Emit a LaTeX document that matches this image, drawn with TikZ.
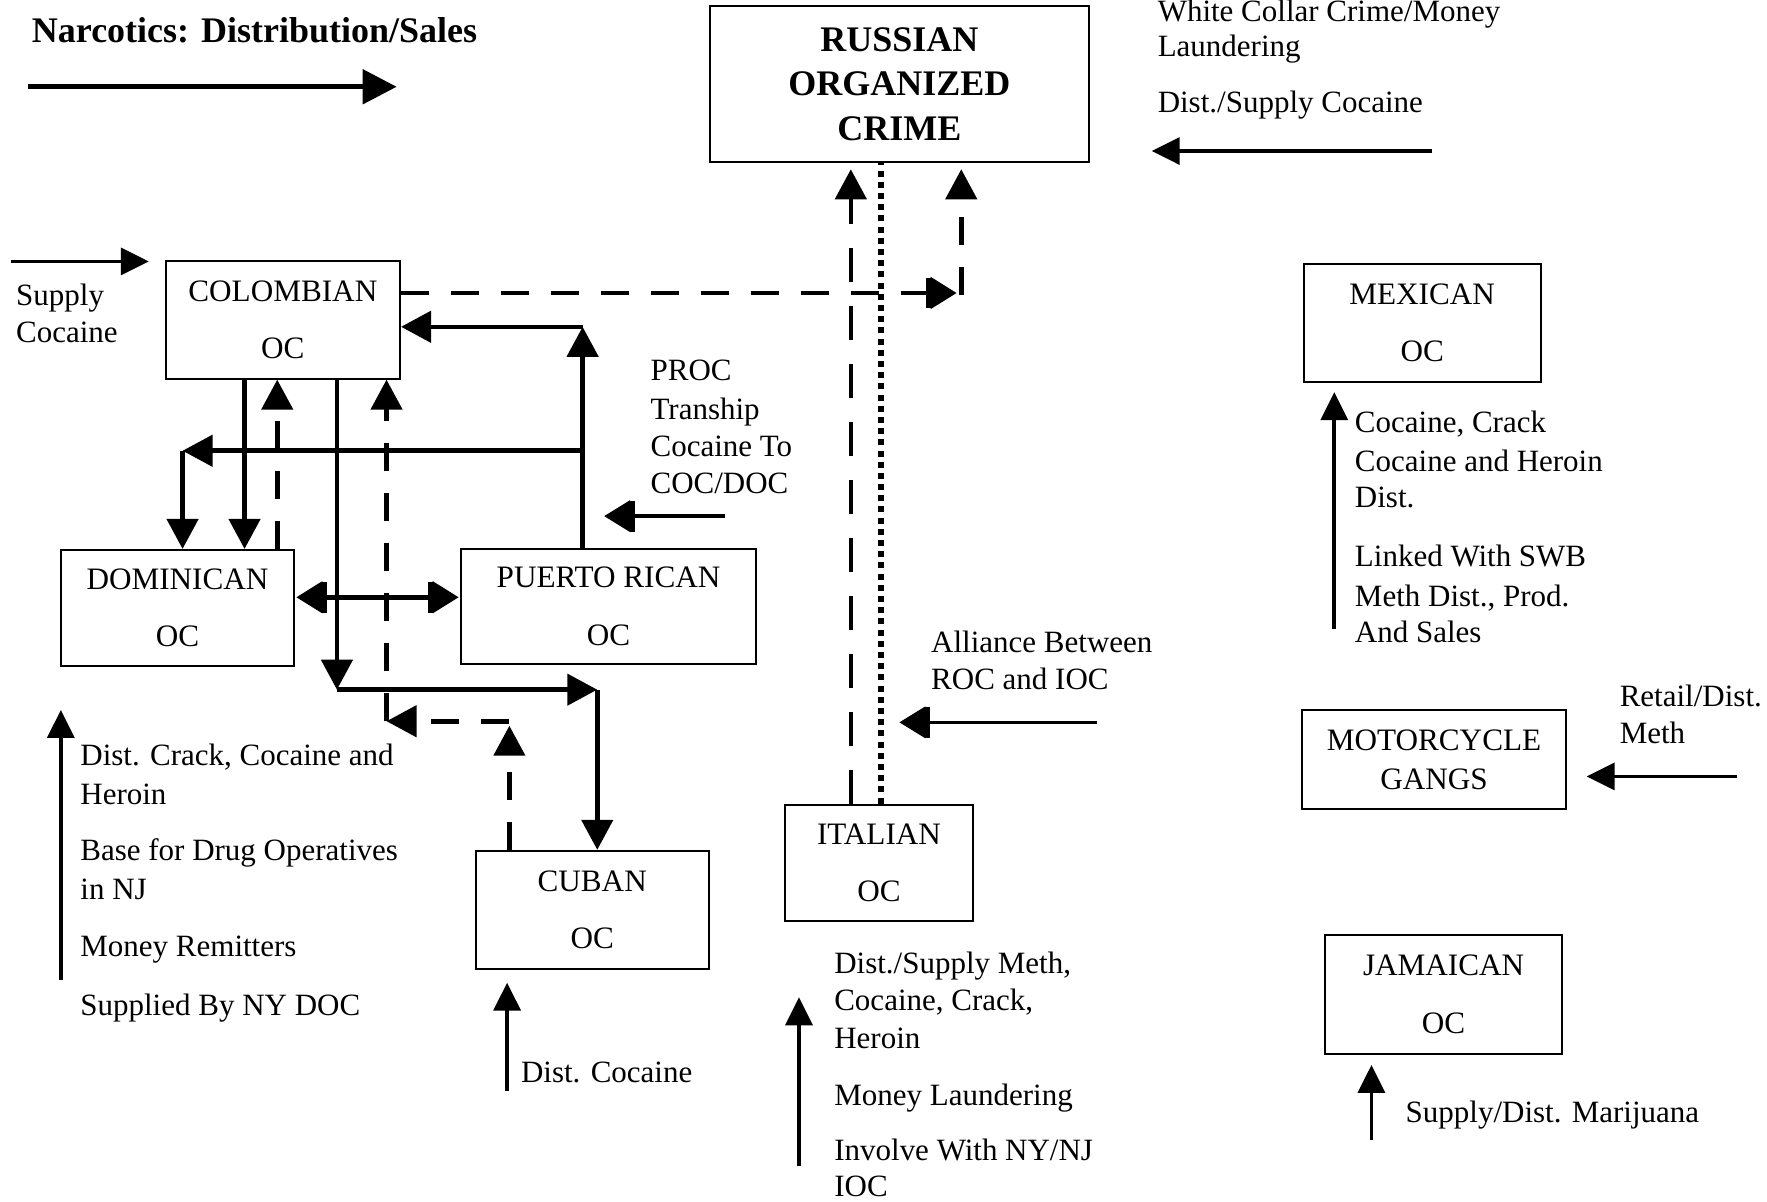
\documentclass[tikz,border=0pt]{standalone}
\usepackage{fontspec}
\setmainfont{Liberation Serif}
\usetikzlibrary{arrows.meta}
\def\dpx{0.5636pt}
\begin{document}
\begin{tikzpicture}[x=0.5636pt,y=-0.5636pt,
 box/.style={draw,line width=1pt,inner sep=0pt,align=center,font=\fontsize{15.6pt}{28.7pt}\selectfont},
 lbl/.style={anchor=base west,inner sep=0pt,font=\fontsize{15.5pt}{18pt}\selectfont},
 ttl/.style={anchor=base west,inner sep=0pt,font=\bfseries\fontsize{18pt}{22pt}\selectfont},
 conn/.style={line width=2.3pt},
 tipA/.style={-{Triangle[length=15pt,width=15.5pt]}},
 solidarrow/.style={conn,tipA},
 dasharrow/.style={conn,tipA,dash pattern=on 14pt off 11pt},
 longdash/.style={conn,tipA,dash pattern=on 17pt off 12pt},
 dotline/.style={line width=3pt,dash pattern=on 3pt off 2.6pt},
 bartip/.style={arrows={-Bar[width=15.5pt,line width=2.5pt,sep=0pt]Triangle[length=13pt,width=15.5pt,sep=0.6pt]}},
 bartips/.style={arrows={Triangle[length=13pt,width=15.5pt,sep=0.6pt]Bar[width=15.5pt,line width=2.5pt,sep=0pt]-Bar[width=15.5pt,line width=2.5pt,sep=0pt]Triangle[length=13pt,width=15.5pt,sep=0.6pt]}},
 lblarrow/.style={line width=1.8pt,-{Triangle[length=14pt,width=13.5pt]}},
 legarrow/.style={line width=2.6pt,-{Triangle[length=17pt,width=17pt]}},
]
\useasboundingbox (0,0) rectangle (1568,1066);
\clip (0,0) rectangle (1568,1066);

% boxes
\node[box,minimum width=336*\dpx,minimum height=139*\dpx,font=\bfseries\fontsize{18pt}{22.3pt}\selectfont] (roc) at (798,74.5) {RUSSIAN\\ORGANIZED\\CRIME};
\node[box,minimum width=208*\dpx,minimum height=104*\dpx] (col) at (251,284) {COLOMBIAN\\OC};
\node[box,minimum width=207*\dpx,minimum height=103*\dpx] (dom) at (157.5,539.5) {DOMINICAN\\OC};
\node[box,minimum width=262*\dpx,minimum height=102*\dpx] (pr) at (540,538) {PUERTO RICAN\\OC};
\node[box,minimum width=207*\dpx,minimum height=105*\dpx] (cub) at (525.5,807.5) {CUBAN\\OC};
\node[box,minimum width=166*\dpx,minimum height=103*\dpx] (ita) at (780,765.5) {ITALIAN\\OC};
\node[box,minimum width=210*\dpx,minimum height=105*\dpx] (mex) at (1262,286.5) {MEXICAN\\OC};
\node[box,minimum width=235*\dpx,minimum height=88*\dpx,font=\fontsize{15.6pt}{19.7pt}\selectfont] (moto) at (1272.5,674) {MOTORCYCLE\\GANGS};
\node[box,minimum width=210*\dpx,minimum height=105*\dpx] (jam) at (1281,882.5) {JAMAICAN\\OC};

% texts
\node[ttl] (title) at (28,38) {Narcotics: Distribution/Sales};
\node[lbl] (w1) at (1027,19) {White Collar Crime/Money};
\node[lbl] (w2) at (1027,50) {Laundering};
\node[lbl] (w3) at (1027,100) {Dist./Supply Cocaine};
\node[lbl] (s1) at (14,271) {Supply};
\node[lbl] (s2) at (14,304) {Cocaine};
\node[lbl] (pt1) at (577,338) {PROC};
\node[lbl] (pt2) at (577,372) {Tranship};
\node[lbl] (pt3) at (577,405) {Cocaine To};
\node[lbl] (pt4) at (577,438) {COC/DOC};
\node[lbl] (al1) at (826,579) {Alliance Between};
\node[lbl] (al2) at (826,612) {ROC and IOC};
\node[lbl] (dt1) at (71,679) {Dist. Crack, Cocaine and};
\node[lbl] (dt2) at (71,714) {Heroin};
\node[lbl] (dt3) at (71,764) {Base for Drug Operatives};
\node[lbl] (dt4) at (71,798) {in NJ};
\node[lbl] (dt5) at (71,849) {Money Remitters};
\node[lbl] (dt6) at (71,901) {Supplied By NY DOC};
\node[lbl] (ct1) at (462,961) {Dist. Cocaine};
\node[lbl] (it1) at (740,864) {Dist./Supply Meth,};
\node[lbl] (it2) at (740,897) {Cocaine, Crack,};
\node[lbl] (it3) at (740,930) {Heroin};
\node[lbl] (it4) at (740,981) {Money Laundering};
\node[lbl] (it5) at (740,1030) {Involve With NY/NJ};
\node[lbl] (it6) at (740,1062) {IOC};
\node[lbl] (mt1) at (1202,384) {Cocaine, Crack};
\node[lbl] (mt2) at (1202,418) {Cocaine and Heroin};
\node[lbl] (mt3) at (1202,450) {Dist.};
\node[lbl] (mt4) at (1202,503) {Linked With SWB};
\node[lbl] (mt5) at (1202,538) {Meth Dist., Prod.};
\node[lbl] (mt6) at (1202,570) {And Sales};
\node[lbl] (rt1) at (1437,627) {Retail/Dist.};
\node[lbl] (rt2) at (1437,660) {Meth};
\node[lbl] (jt1) at (1247,996) {Supply/Dist. Marijuana};

% free ends of label arrows
\coordinate (lgA) at (25,77);   \coordinate (lgB) at (352,77);
\coordinate (spA) at (10,232);  \coordinate (spB) at (132,232);
\coordinate (rA) at (1271,134); \coordinate (rB) at (1022,134);
\coordinate (pA) at (643,458);  \coordinate (pB) at (535,458);
\coordinate (aA) at (973,641);  \coordinate (aB) at (797,641);
\coordinate (dA) at (54,870);   \coordinate (dB) at (54,630);
\coordinate (cA) at (450,968);  \coordinate (cB) at (450,872);
\coordinate (iA) at (709,1035); \coordinate (iB) at (709,885);
\coordinate (mA) at (1184,558); \coordinate (mB) at (1184,348);
\coordinate (moA) at (1541,689);\coordinate (moB) at (1408,689);
\coordinate (jA) at (1217,1012);\coordinate (jB) at (1217,945);

% junctions
\coordinate (xa) at (217,0);
\coordinate (xb) at (246,0);
\coordinate (xd) at (299,0);
\coordinate (xg) at (755,0);
\coordinate (xh) at (782,0);
\coordinate (kR) at (517,290);
\coordinate (kM) at (517,400);
\coordinate (kL) at (162,400);
\coordinate (kD) at (299,612);
\coordinate (kC) at (530,612);
\coordinate (kU) at (452,644);
\coordinate (kV) at (452,640);
\coordinate (kW) at (343,640);
\coordinate (kH) at (850,260);
\coordinate (kT) at (853,262);
\coordinate (yDP) at (0,530);

% label arrows
\draw[legarrow] (lgA) -- (lgB);
\draw[lblarrow] (spA) -- (spB);
\draw[lblarrow] (rA) -- (rB);
\draw[lblarrow,bartip] (pA) -- (pB);
\draw[lblarrow,bartip] (aA) -- (aB);
\draw[lblarrow] (dA) -- (dB);
\draw[lblarrow] (cA) -- (cB);
\draw[lblarrow] (iA) -- (iB);
\draw[lblarrow] (mA) -- (mB);
\draw[lblarrow] (moA) -- (moB);
\draw[lblarrow] (jA) -- (jB);

% connectors between groups
\draw[solidarrow] (col.south -| xa) -- (dom.north -| xa);
\draw[dasharrow] (dom.north -| xb) -- (col.south -| xb);
\draw[solidarrow] (col.south -| xd) -- (kD);
\draw[solidarrow] (kD) -- (kC);
\draw[solidarrow] (kC) -- (cub.north -| kC);
\draw[dasharrow] (cub.north -| kU) -- (kU);
\draw[dasharrow] (kV) -- (kW);
\draw[dasharrow] (kW) -- (col.south -| kW);
\draw[solidarrow] (pr.north -| kR) -- (kR);
\draw[solidarrow] (kR) -- (col.east |- kR);
\draw[solidarrow] (kM) -- (kL);
\draw[solidarrow] (kL) -- (dom.north -| kL);
\draw[conn,bartips] (dom.east |- yDP) -- (pr.west |- yDP);
\draw[conn,dash pattern=on 14pt off 11pt,bartip] (col.east |- kH) -- (kH);
\draw[dasharrow,shorten >=3pt] (kT) -- (roc.south -| kT);
\draw[longdash,shorten >=3pt] (ita.north -| xg) -- (roc.south -| xg);
\draw[dotline] (ita.north -| xh) -- (roc.south -| xh);
\end{tikzpicture}
\end{document}
